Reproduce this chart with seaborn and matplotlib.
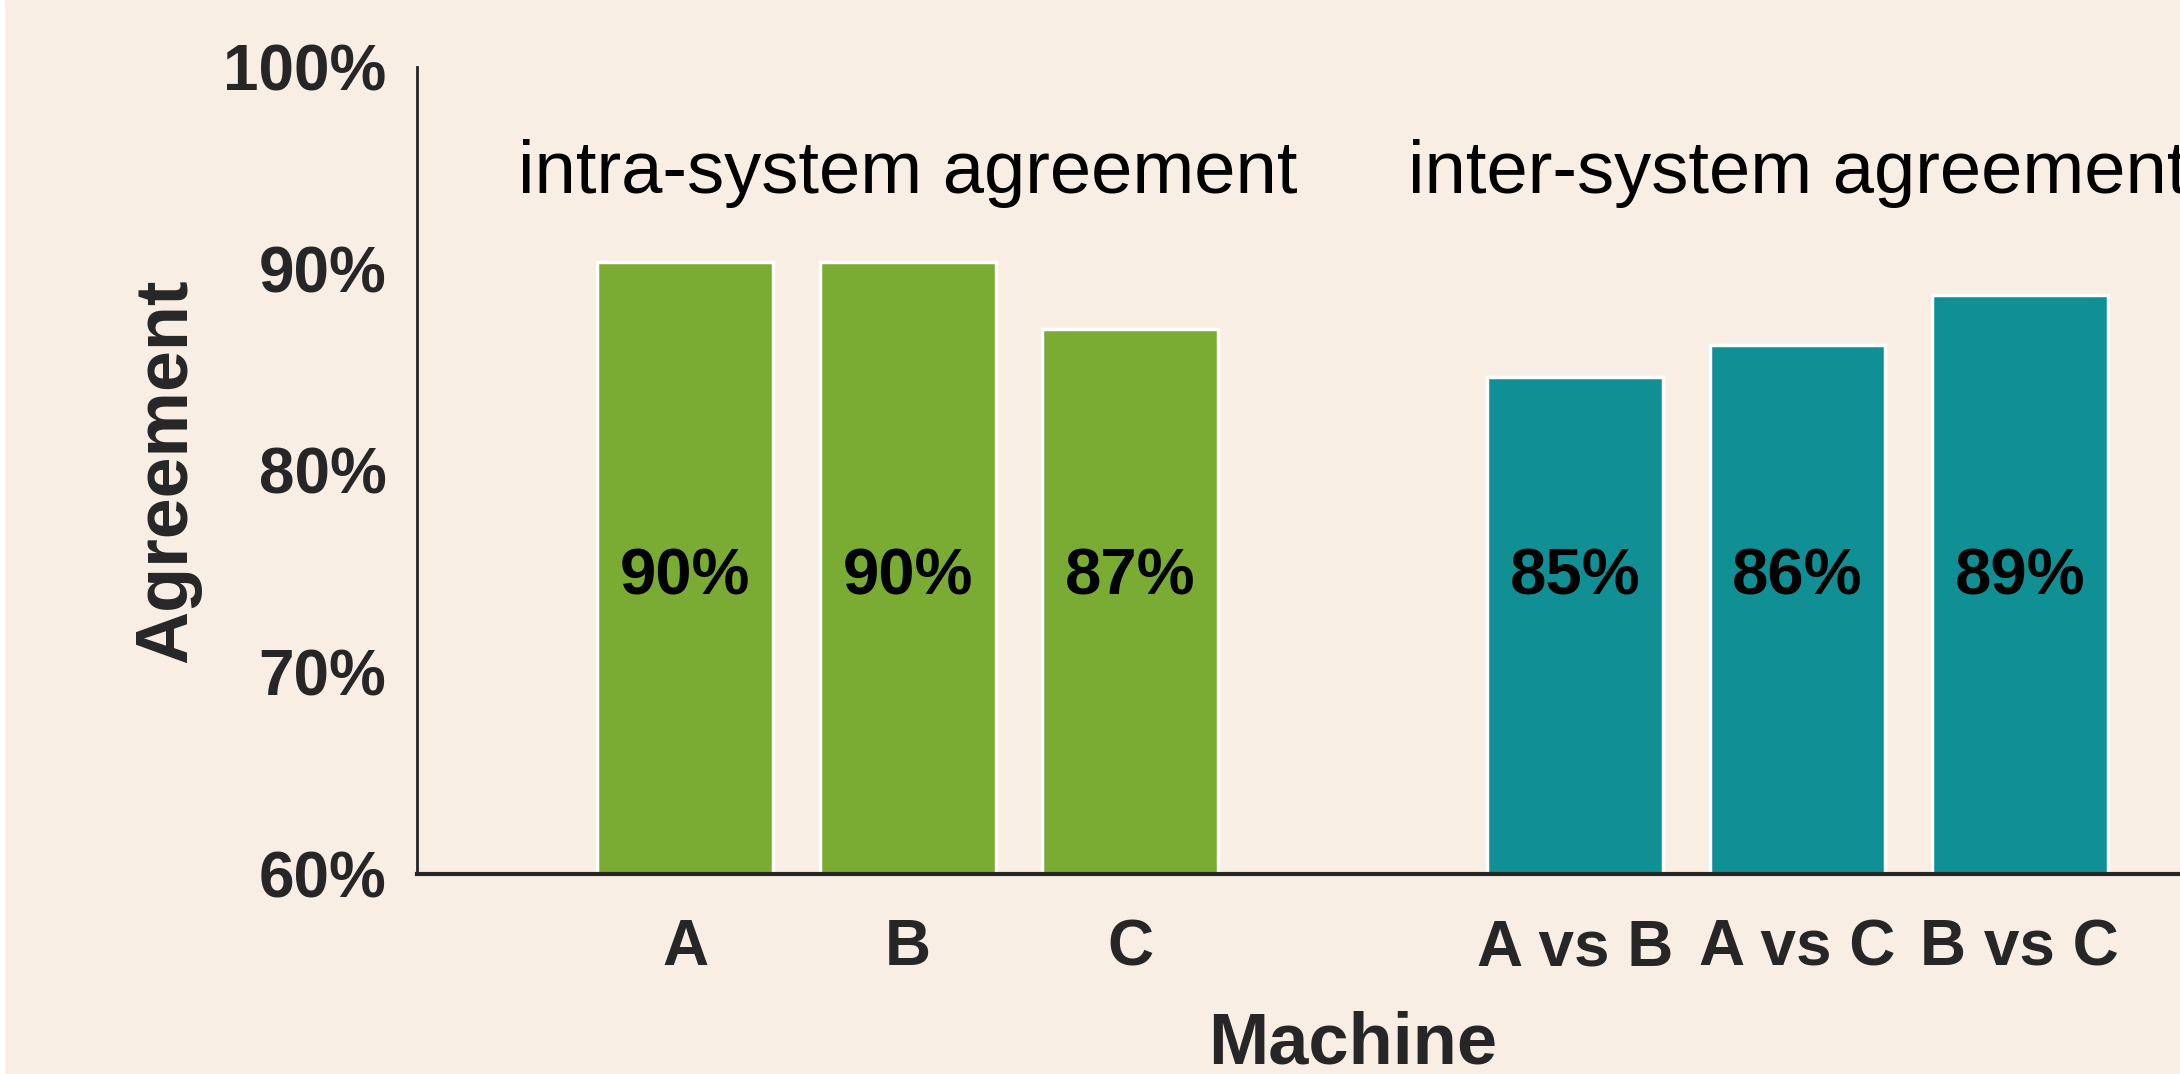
import matplotlib
matplotlib.use("Agg")
import matplotlib.pyplot as plt
import seaborn as sns
import pandas as pd
from matplotlib.patches import Rectangle

# data
machines = ["A", "B", "C", "A vs B", "A vs C", "B vs C"]
agreement = [90.3, 90.3, 87.0, 84.6, 86.2, 88.7]
groups = ["intra-system agreement"] * 3 + ["inter-system agreement"] * 3
order = ["A", "B", "C", " ", "A vs B", "A vs C", "B vs C"]
yticks = [60, 70, 80, 90, 100]

bg = "#f9eee4"
palette = {"intra-system agreement": "#7aab32", "inter-system agreement": "#108f95"}

sns.set_theme(style="white")
plt.rcParams["font.family"] = ["Liberation Sans", "DejaVu Sans"]

df = pd.DataFrame({"machine": machines, "agreement": agreement, "group": groups})

fig = plt.figure(figsize=(21.8, 10.74), dpi=100, facecolor=bg)
ax = fig.add_axes([0.1913, 0.1865, 0.8087, 0.7513])
ax.set_facecolor(bg)

sns.barplot(data=df, x="machine", y="agreement", hue="group", order=order,
            palette=palette, dodge=False, width=0.79, legend=False, saturation=1,
            edgecolor="white", linewidth=2.5, ax=ax)

ax.set_ylim(60, 100)
ax.set_xlim(-1.206, 6.72)
ax.set_yticks(yticks)
ax.set_yticklabels([f"{t}%" for t in yticks])

ax.tick_params(axis="y", length=0, pad=22, labelsize=46, labelcolor="#262626")
ax.tick_params(axis="x", length=0, pad=32, labelsize=46, labelcolor="#262626")
for lab in ax.get_xticklabels() + ax.get_yticklabels():
    lab.set_fontweight("bold")

for s in ["top", "right"]:
    ax.spines[s].set_visible(False)
ax.spines["left"].set_color("#262626")
ax.spines["left"].set_linewidth(2)
ax.spines["bottom"].set_color("#262626")
ax.spines["bottom"].set_linewidth(3)

# value labels inside bars
for m, v in zip(machines, agreement):
    ax.text(order.index(m), 74.7, f"{round(v)}%", ha="center", va="center",
            fontsize=47, fontweight="bold", color="black")

# group titles
for g in ["intra-system agreement", "inter-system agreement"]:
    pos = [order.index(m) for m, gg in zip(machines, groups) if gg == g]
    ax.text(sum(pos) / len(pos), 94.7, g, ha="center", va="center",
            fontsize=53.5, color="black", clip_on=False)

ax.set_xlabel("Machine", fontsize=52, fontweight="bold", color="#262626", va="baseline")
ax.xaxis.set_label_coords(0.531, -0.235)
ax.set_ylabel("Agreement", fontsize=53, fontweight="bold", color="#262626", va="center")
ax.yaxis.set_label_coords(-0.142, 0.5)

# thin white strip at the left edge of the reference
fig.add_artist(Rectangle((0, 0), 4 / 2180, 1, transform=fig.transFigure,
                         color="white", zorder=10))

fig.savefig("out.png", dpi=100, facecolor=bg)
